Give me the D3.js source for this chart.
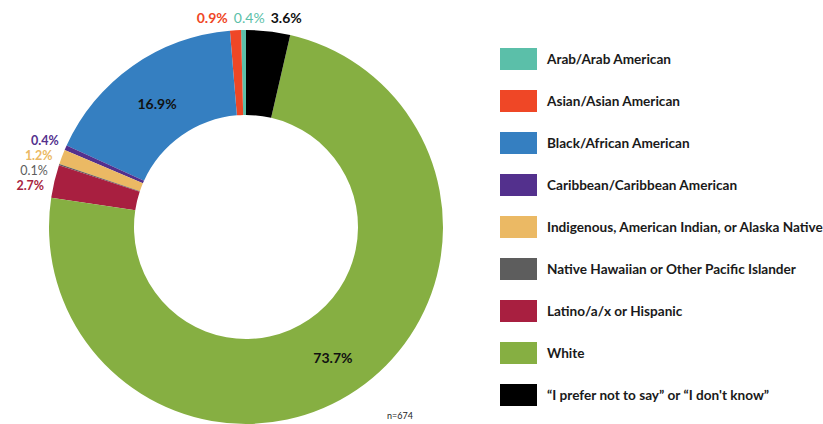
<!DOCTYPE html>
<html>
<head>
<meta charset="utf-8">
<script src="https://cdn.jsdelivr.net/npm/d3@7"></script>
<style>
  body { margin: 0; background: #fff; }
  text { font-family: Lato, "Open Sans", sans-serif; }
</style>
</head>
<body>
<svg id="chart" width="823" height="424"></svg>
<script>
// race / ethnicity shares, in percent
var categories = [
  "Arab/Arab American",
  "Asian/Asian American",
  "Black/African American",
  "Caribbean/Caribbean American",
  "Indigenous, American Indian, or Alaska Native",
  "Native Hawaiian or Other Pacific Islander",
  "Latino/a/x or Hispanic",
  "White",
  "\u201cI prefer not to say\u201d or \u201cI don't know\u201d"
];
var values = [0.4, 0.9, 16.9, 0.4, 1.2, 0.1, 2.7, 73.7, 3.6];
var labels = ["0.4%", "0.9%", "16.9%", "0.4%", "1.2%", "0.1%", "2.7%", "73.7%", "3.6%"];
var colors = ["#5bbfa9", "#ef4726", "#357fc1", "#53308d", "#ebb964",
              "#5d5d5d", "#a81f40", "#86af42", "#000000"];
var note = "n=674";

var svg = d3.select("#chart");
var cx = 246, cy = 227, outerR = 197, innerR = 112;

var color = d3.scaleOrdinal().domain(categories).range(colors);

// slices run counter-clockwise from 12 o'clock
var pie = d3.pie().sort(null).startAngle(0).endAngle(-2 * Math.PI);
var arcs = pie(values);
var arc = d3.arc().innerRadius(innerR).outerRadius(outerR);

var g = svg.append("g").attr("transform", "translate(" + cx + "," + cy + ")");

g.selectAll("path.slice")
  .data(arcs)
  .enter().append("path")
  .attr("class", "slice")
  .attr("d", arc)
  .attr("fill", function(d, i) { return color(categories[i]); });

// big slices get the label inside, small ones outside
var labelData = arcs.map(function(d, i) {
  var mid = (d.startAngle + d.endAngle) / 2;
  return { i: i, mid: mid, big: values[i] > 10 };
});

function midDeg(d) {
  var a = d.mid * 180 / Math.PI;
  while (a < -180) a += 360;
  while (a > 180) a -= 360;
  return a;
}

var insideLabels = labelData.filter(function(d) { return d.big; });
var topLabels = labelData.filter(function(d) { return !d.big && Math.abs(midDeg(d)) < 30; });
var sideLabels = labelData.filter(function(d) { return !d.big && Math.abs(midDeg(d)) >= 30; });

// top group: spread horizontally
var labelR = outerR + 10;
topLabels.forEach(function(d) {
  d.x = labelR * Math.sin(d.mid);
  d.y = -outerR - 12;
  d.anchor = "middle";
  d.size = 14;
});
topLabels.sort(function(a, b) { return a.x - b.x; });
for (var k = 0; k < 50; k++) {
  for (var j = 1; j < topLabels.length; j++) {
    var gap = topLabels[j].x - topLabels[j - 1].x, need = 37;
    if (gap < need) {
      topLabels[j].x += (need - gap) / 2;
      topLabels[j - 1].x -= (need - gap) / 2;
    }
  }
}

// side group: stack vertically around the group's mean, keep on a circle
sideLabels.forEach(function(d) {
  d.y = -labelR * Math.cos(d.mid);
  d.anchor = "end";
  d.size = 12.5;
});
sideLabels.sort(function(a, b) { return a.y - b.y; });
var meanBefore = d3.mean(sideLabels, function(d) { return d.y; });
for (var s = 1; s < sideLabels.length; s++) {
  if (sideLabels[s].y - sideLabels[s - 1].y < 15) sideLabels[s].y = sideLabels[s - 1].y + 15;
}
var shift = meanBefore - d3.mean(sideLabels, function(d) { return d.y; }) + 4;
sideLabels.forEach(function(d) {
  d.y += shift;
  d.x = -Math.sqrt(labelR * labelR - d.y * d.y) + 1;
});

insideLabels.forEach(function(d) {
  var c = arc.centroid(arcs[d.i]);
  d.x = c[0];
  d.y = c[1] + 3;
  d.anchor = "middle";
  d.size = 14;
});

var thin = ["0.1%"];
g.selectAll("text.pct")
  .data(insideLabels.concat(topLabels, sideLabels))
  .enter().append("text")
  .attr("class", "pct")
  .attr("x", function(d) { return d.x; })
  .attr("y", function(d) { return d.y; })
  .attr("dy", "0.35em")
  .attr("text-anchor", function(d) { return d.anchor; })
  .attr("font-size", function(d) { return d.size; })
  .attr("font-weight", function(d) {
    return (categories[d.i] === "Arab/Arab American" || thin.indexOf(labels[d.i]) >= 0) ? 400 : 700;
  })
  .attr("fill", function(d) {
    if (d.big || colors[d.i] === "#000000") return "#111";
    return color(categories[d.i]);
  })
  .text(function(d) { return labels[d.i]; });

// sample size note
svg.append("text")
  .attr("x", cx + 141)
  .attr("y", cy + 192)
  .attr("font-size", 9)
  .attr("fill", "#222")
  .text(note);

// legend
var rowY = d3.scalePoint().domain(categories).range([59, 395]);
var legend = svg.append("g").attr("transform", "translate(500,0)");
var rows = legend.selectAll("g.row")
  .data(categories)
  .enter().append("g")
  .attr("class", "row")
  .attr("transform", function(d) { return "translate(0," + rowY(d) + ")"; });

rows.append("rect")
  .attr("x", 0)
  .attr("y", -11)
  .attr("width", 37)
  .attr("height", 22)
  .attr("fill", function(d) { return color(d); });

rows.append("text")
  .attr("x", 47)
  .attr("dy", "0.35em")
  .attr("font-size", 13.6)
  .attr("font-weight", 700)
  .attr("fill", "#1a1a1a")
  .text(function(d) { return d; });
</script>
</body>
</html>
